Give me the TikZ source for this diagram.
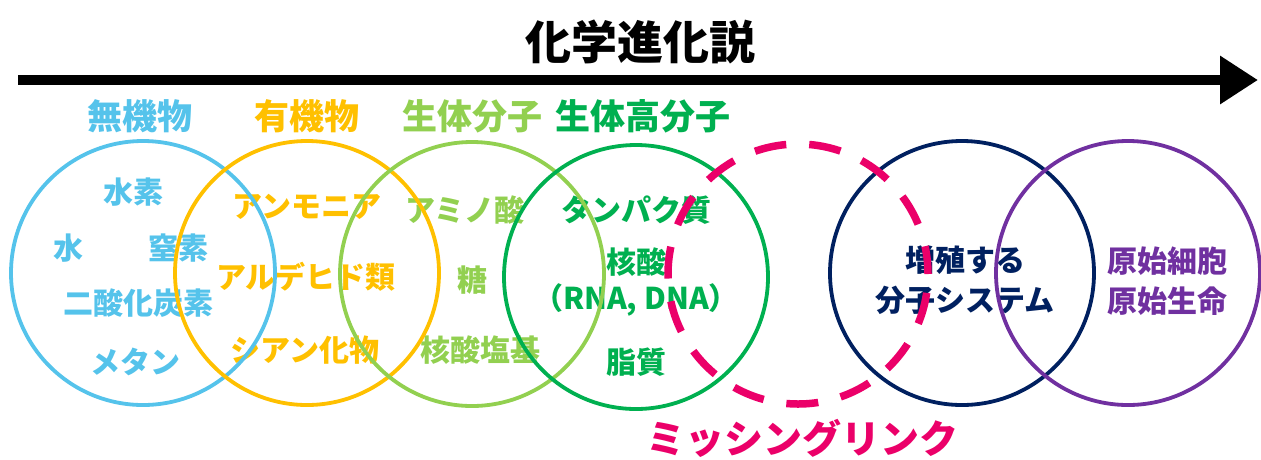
\documentclass[tikz,border=0pt]{standalone}
\usepackage{fontspec}
\setmainfont{Noto Sans CJK JP}
\usetikzlibrary{arrows.meta}
\definecolor{cblue}{RGB}{85,195,235}
\definecolor{corange}{RGB}{255,192,0}
\definecolor{clgreen}{RGB}{146,208,80}
\definecolor{cgreen}{RGB}{0,176,80}
\definecolor{cnavy}{RGB}{0,32,96}
\definecolor{cpurple}{RGB}{112,48,160}
\definecolor{cpink}{RGB}{235,0,105}
\tikzset{
  ring/.style={circle, draw=#1, line width=3.8pt, minimum size=264pt, inner sep=0pt},
  cat/.style={text=#1, font=\fontsize{35}{40}\selectfont\bfseries, inner sep=0pt},
  item/.style={text=#1, font=\fontsize{30}{40}\selectfont\bfseries, inner sep=0pt, align=center},
}
\begin{document}
\begin{tikzpicture}[x=1pt,y=-1pt]
\useasboundingbox (0,0) rectangle (1261,459);
% title and arrow
\node[font=\fontsize{46}{52}\selectfont\bfseries, inner sep=0pt] (title) at (640,42) {化学進化説};
\coordinate (arrS) at (18,80);
\coordinate (arrE) at (1258,80);
\draw[line width=9.5pt, -{Triangle[length=38pt,width=46pt]}] (arrS) -- (arrE);
% category labels
\node[cat=cblue] (lab1) at (140,116) {無機物};
\node[cat=corange] (lab2) at (307,116) {有機物};
\node[cat=clgreen] (lab3) at (472,116) {生体分子};
\node[cat=cgreen] (lab4) at (643,116) {生体高分子};
% items
\node[item=cblue] (t1) at (133,192) {水素};
\node[item=cblue] (t2) at (68,248) {水};
\node[item=cblue] (t3) at (178,248) {窒素};
\node[item=cblue] (t4) at (138,303) {二酸化炭素};
\node[item=cblue] (t5) at (135,362) {メタン};
\node[item=corange] (o1) at (307,207) {アンモニア};
\node[item=corange] (o2) at (306,277) {アルデヒド類};
\node[item=corange] (o3) at (305,350) {シアン化物};
\node[item=clgreen] (g1) at (465,210) {アミノ酸};
\node[item=clgreen] (g2) at (472,280) {糖};
\node[item=clgreen] (g3) at (480,350) {核酸塩基};
\node[item=cgreen] (h1) at (636,210) {タンパク質};
\node[item=cgreen] (h2) at (636,262) {核酸};
\node[item=cgreen] (h3) at (636,300) {（RNA, DNA）};
\node[item=cgreen] (h4) at (636,362) {脂質};
\node[item=cnavy] (n1) at (965,280) {増殖する\\分子システム};
\node[item=cpurple] (p1) at (1167,281) {原始細胞\\原始生命};
% rings
\node[ring=cblue] (c1) at (143,273) {};
\node[ring=corange] (c2) at (307,273) {};
\node[ring=clgreen] (c3) at (472,274) {};
\node[ring=cgreen] (c4) at (636,277) {};
\node[ring=cnavy] (c5) at (962,273) {};
\node[ring=cpurple] (c6) at (1128,273) {};
\node[circle, draw=cpink, line width=7.5pt, minimum size=260pt, inner sep=0pt, dash pattern=on 32pt off 23pt, dash phase=4pt] (ml) at (798,274) {};
\node[text=cpink, font=\fontsize{39}{44}\selectfont\bfseries, inner sep=0pt] (mltext) at (802,438) {ミッシングリンク};
\end{tikzpicture}
\end{document}
